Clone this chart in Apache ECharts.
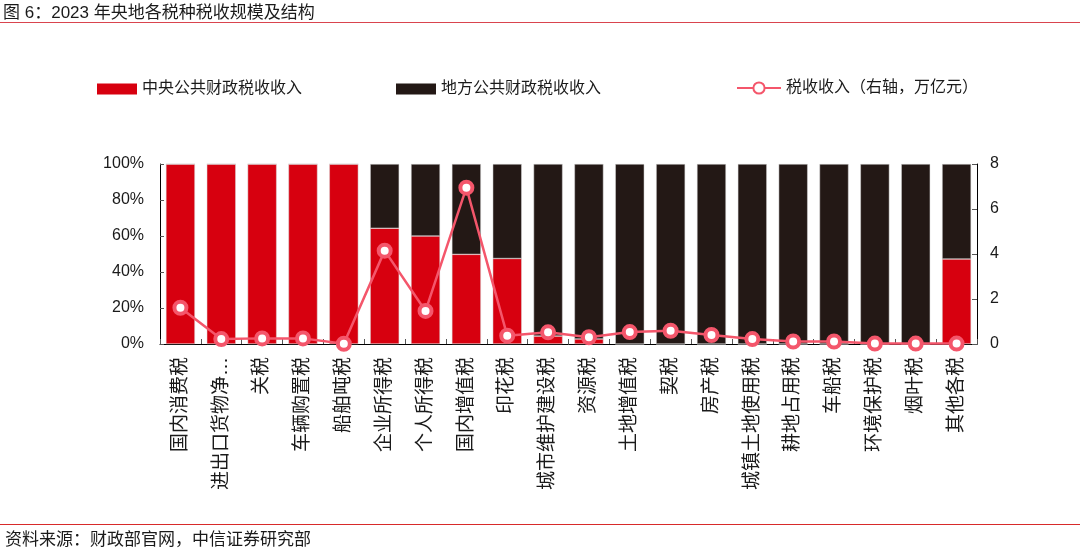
<!DOCTYPE html>
<html>
<head>
<meta charset="utf-8">
<script src="https://cdn.jsdelivr.net/npm/echarts@6/dist/echarts.min.js"></script>
<style>
html,body{margin:0;padding:0;background:#fff;}
#c{width:1080px;height:558px;}
</style>
</head>
<body>
<div id="c"></div>
<script>
var categories = ['国内消费税','进出口货物净征收增值税消费税','关税','车辆购置税','船舶吨税','企业所得税','个人所得税','国内增值税','印花税','城市维护建设税','资源税','土地增值税','契税','房产税','城镇土地使用税','耕地占用税','车船税','环境保护税','烟叶税','其他各税'];
var centralShare = [100,100,100,100,100,64.3,60,49.8,47.5,4.4,2.8,0,0,0,0,0,0,0,0,47.2];
var localShare = [0,0,0,0,0,35.7,40,50.2,52.5,95.6,97.2,100,100,100,100,100,100,100,100,52.8];
var taxRevenue = [1.61,0.22,0.25,0.25,0.01,4.15,1.47,6.95,0.37,0.52,0.30,0.53,0.59,0.40,0.22,0.11,0.11,0.02,0.02,0.02];
var leftTicks = {min:0,max:100,interval:20};
var rightTicks = {min:0,max:8,interval:2};

var FF = 'Liberation Sans, Arial, "Noto Sans CJK SC", sans-serif';
var RED = '#D7000F', BLACK = '#231815', PINK = '#F4566B';
var chart = echarts.init(document.getElementById('c'));
chart.setOption({
  backgroundColor:'#fff',
  animation:false,
  textStyle:{fontFamily:FF},
  title:{text:'图 6：2023 年央地各税种税收规模及结构',left:3,top:5,padding:0,textStyle:{fontSize:17,fontWeight:'normal',color:'#1a1a1a',fontFamily:FF}},
  legend:[
    {data:['中央公共财政税收收入'],icon:'rect',left:97,top:81,padding:0,itemWidth:40,itemHeight:11,itemStyle:{borderWidth:0},textStyle:{fontSize:16,color:'#1a1a1a'}},
    {data:['地方公共财政税收收入'],icon:'rect',left:396,top:81,padding:0,itemWidth:40,itemHeight:11,itemStyle:{borderWidth:0},textStyle:{fontSize:16,color:'#1a1a1a'}},
    {data:['税收收入（右轴，万亿元）'],left:736,top:80,padding:0,itemWidth:44,itemHeight:14,textStyle:{fontSize:16,color:'#1a1a1a'}}
  ],
  grid:{left:160,right:103,top:164,bottom:214},
  xAxis:{type:'category',data:categories,
    axisLine:{lineStyle:{color:'#000',width:1}},
    axisTick:{show:true,inside:true,length:5,lineStyle:{color:'#555'}},
    axisLabel:{rotate:90,interval:0,fontSize:19,color:'#1a1a1a',margin:13,
      formatter:function(v){return v.length>7 ? v.slice(0,6)+'…' : v;}}
  },
  yAxis:[
    {type:'value',min:leftTicks.min,max:leftTicks.max,interval:leftTicks.interval,
      axisLine:{show:true,lineStyle:{color:'#000'}},
      axisTick:{show:true,inside:true,length:4,lineStyle:{color:'#555'}},
      splitLine:{show:false},
      axisLabel:{formatter:'{value}%',fontSize:16,color:'#1a1a1a',margin:16}},
    {type:'value',min:rightTicks.min,max:rightTicks.max,interval:rightTicks.interval,position:'right',
      axisLine:{show:true,lineStyle:{color:'#000'}},
      axisTick:{show:true,inside:true,length:5,lineStyle:{color:'#555'}},
      splitLine:{show:false},
      axisLabel:{fontSize:16,color:'#1a1a1a',margin:13}}
  ],
  series:[
    {name:'中央公共财政税收收入',type:'bar',stack:'s',data:centralShare,barWidth:'71%',
      itemStyle:{color:RED,borderColor:'#d8d8d8',borderWidth:0.5}},
    {name:'地方公共财政税收收入',type:'bar',stack:'s',data:localShare,
      itemStyle:{color:BLACK,borderColor:'#d8d8d8',borderWidth:0.5}},
    {name:'税收收入（右轴，万亿元）',type:'line',yAxisIndex:1,data:taxRevenue,
      symbol:'circle',symbolSize:12,
      lineStyle:{color:PINK,width:2.5},
      itemStyle:{color:'#fff',borderColor:PINK,borderWidth:4}}
  ],
  graphic:[
    {type:'line',shape:{x1:0,y1:22.5,x2:1080,y2:22.5},style:{stroke:'#D9444E',lineWidth:1.2}},
    {type:'line',shape:{x1:0,y1:524.5,x2:1080,y2:524.5},style:{stroke:'#D82A2A',lineWidth:1.2}},
    {type:'text',left:5,top:532,style:{text:'资料来源：财政部官网，中信证券研究部',font:'17px '+FF,fill:'#1a1a1a'}}
  ]
});
</script>
</body>
</html>
